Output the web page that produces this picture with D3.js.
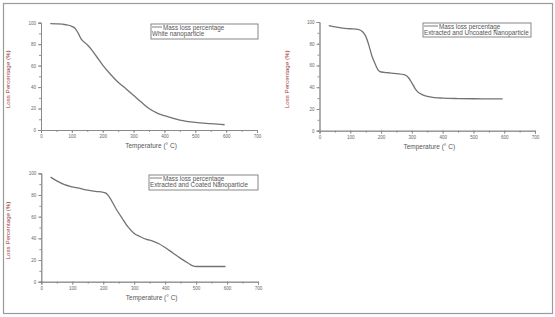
<!DOCTYPE html>
<html>
<head>
<meta charset="utf-8">
<script src="https://cdn.jsdelivr.net/npm/d3@7"></script>
<style>
  html, body { margin: 0; padding: 0; background: #fff; }
  svg { display: block; font-family: "Liberation Sans", Arial, sans-serif; }
</style>
</head>
<body>
<svg id="chart" width="555" height="317"></svg>
<script>
// --- data ---
const whiteTemp = [30, 50, 80, 100, 110, 120, 130, 150, 165, 180, 200, 225, 250, 275, 300, 325, 350, 375, 400, 450, 500, 550, 595];
const whiteLoss = [99.1, 98.9, 98.1, 96.6, 94.8, 90.5, 85, 79.5, 74.5, 68.5, 60.5, 52, 44.5, 38.5, 32.3, 26, 20, 16, 13.3, 9.3, 7.1, 5.9, 4.9];

const uncoatedTemp = [30, 50, 75, 100, 125, 140, 150, 160, 170, 180, 190, 200, 225, 250, 275, 290, 300, 310, 320, 335, 350, 375, 400, 450, 500, 550, 595];
const uncoatedLoss = [96.7, 95.5, 94.3, 93.8, 93.2, 91, 87, 79, 69, 62, 56, 54, 53.3, 52.5, 51.5, 48.5, 44, 39, 35.5, 33, 31.5, 30.4, 30, 29.6, 29.4, 29.3, 29.3];

const coatedTemp = [30, 50, 75, 100, 125, 150, 175, 200, 210, 220, 240, 260, 280, 300, 320, 340, 360, 380, 400, 425, 450, 475, 490, 500, 550, 595];
const coatedLoss = [96.5, 93, 89.5, 87.5, 86, 84.5, 83.3, 82.5, 81.5, 78, 68, 59, 50.5, 44.5, 41.5, 39, 37.5, 35, 31.5, 26.5, 21.5, 17, 14.5, 14, 14, 14];

const xTicks = [0, 100, 200, 300, 400, 500, 600, 700];
const yTicks = [0, 20, 40, 60, 80, 100];
const legendTitle = "Mass loss percentage";
const seriesNames = ["White nanoparticle", "Extracted and Uncoated Nanoparticle", "Extracted and Coated Nanoparticle"];

const svg = d3.select("#chart");

// outer frame
svg.append("rect").attr("x", 3.5).attr("y", 3.5).attr("width", 549).attr("height", 310)
  .attr("fill", "none").attr("stroke", "#9a9a9a").attr("stroke-width", 1.2);

const panels = [
  { temp: whiteTemp, loss: whiteLoss, name: seriesNames[0], x0: 41, x1: 257, y0: 130, y1: 22.7,
    leg: { x: 151, y: 24, w: 107, h: 15, t1x: 163, sx: 152 } },
  { temp: uncoatedTemp, loss: uncoatedLoss, name: seriesNames[1], x0: 319.5, x1: 535, y0: 130.7, y1: 22,
    leg: { x: 423, y: 23, w: 108, h: 14, t1x: 439, sx: 424 } },
  { temp: coatedTemp, loss: coatedLoss, name: seriesNames[2], x0: 41.3, x1: 258, y0: 281.7, y1: 173.3,
    leg: { x: 149, y: 175, w: 109, h: 15, t1x: 163, sx: 150 } }
];

panels.forEach(p => {
  const x = d3.scaleLinear().domain([0, 700]).range([p.x0, p.x1]);
  const y = d3.scaleLinear().domain([0, 100]).range([p.y0, p.y1]);
  const g = svg.append("g");

  // minor ticks
  const xa = g.append("g").attr("transform", `translate(0,${p.y0})`)
    .call(d3.axisBottom(x).tickValues(d3.range(0, 701, 50)).tickSize(2).tickFormat(""));
  const ya = g.append("g").attr("transform", `translate(${p.x0},0)`)
    .call(d3.axisLeft(y).tickValues(d3.range(0, 101, 10)).tickSize(2).tickFormat(""));
  // major ticks with labels
  const xm = g.append("g").attr("transform", `translate(0,${p.y0})`)
    .call(d3.axisBottom(x).tickValues(xTicks).tickSize(3).tickPadding(2));
  const ym = g.append("g").attr("transform", `translate(${p.x0},0)`)
    .call(d3.axisLeft(y).tickValues(yTicks).tickSize(3).tickPadding(2));

  [xa, ya, xm, ym].forEach(a => {
    a.selectAll("path, line").attr("stroke", "#8a8a8a").attr("stroke-width", 0.9);
    a.selectAll("text").attr("fill", "#666").style("font-size", "4.5px");
  });

  // axis titles
  g.append("text").attr("x", (p.x0 + x(700)) / 2 + 2).attr("y", p.y0 + 18)
    .attr("text-anchor", "middle").attr("fill", "#555").style("font-size", "6.5px")
    .text("Temperature (° C)");
  g.append("text")
    .attr("transform", `translate(${p.x0 - 31},${(p.y0 + p.y1) / 2 + 3}) rotate(-90)`)
    .attr("text-anchor", "middle").attr("fill", "#9b3b3b").style("font-size", "6.2px")
    .text("Loss Percentage (%)");

  // curve
  const line = d3.line().x(d => x(d[0])).y(d => y(d[1])).curve(d3.curveMonotoneX);
  g.append("path").datum(d3.zip(p.temp, p.loss))
    .attr("d", line).attr("fill", "none").attr("stroke", "#737373").attr("stroke-width", 1.3);

  // legend
  const L = p.leg;
  g.append("rect").attr("x", L.x).attr("y", L.y).attr("width", L.w).attr("height", L.h)
    .attr("fill", "#fff").attr("stroke", "#7a7a7a").attr("stroke-width", 0.9);
  g.append("line").attr("x1", L.sx).attr("x2", L.t1x - 1).attr("y1", L.y + 3).attr("y2", L.y + 3)
    .attr("stroke", "#707070").attr("stroke-width", 0.9);
  g.append("text").attr("x", L.t1x).attr("y", L.y + 5.5).attr("fill", "#555").style("font-size", "6.3px")
    .text(legendTitle);
  g.append("text").attr("x", L.sx).attr("y", L.y + 12).attr("fill", "#555").style("font-size", "6.3px")
    .text(p.name);
});
</script>
</body>
</html>
